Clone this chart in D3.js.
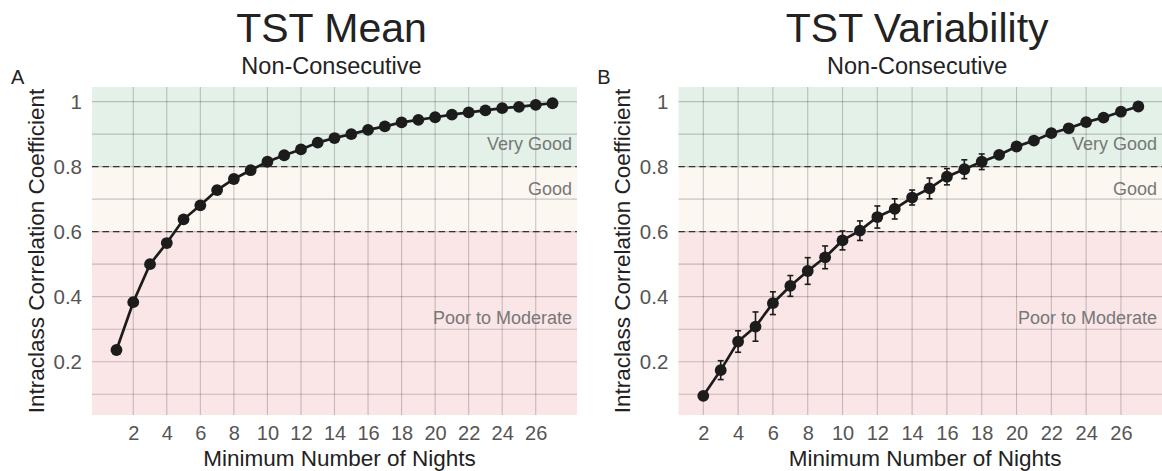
<!DOCTYPE html>
<html><head><meta charset="utf-8">
<script src="https://cdn.jsdelivr.net/npm/d3@7"></script>
<style>
body{margin:0;background:#fff;}
text{font-family:"Liberation Sans",Arial,Helvetica,sans-serif;}
</style></head>
<body><svg id="c" width="1162" height="471"></svg>
<script>
// ---- data ----
const nightsMean = [1,2,3,4,5,6,7,8,9,10,11,12,13,14,15,16,17,18,19,20,21,22,23,24,25,26,27];
const iccMean = [0.236,0.383,0.500,0.565,0.638,0.681,0.728,0.762,0.789,0.815,0.835,0.853,0.874,0.888,0.900,0.913,0.924,0.936,0.944,0.952,0.960,0.967,0.973,0.980,0.984,0.990,0.995];
const errMean = [0.012,0.012,0.008,0.012,0.007,0.006,0.005,0.005,0.004,0.004,0.004,0.003,0.003,0.003,0.003,0.003,0.003,0.002,0.002,0.002,0.002,0.002,0.002,0.002,0.002,0.002,0.002];

const nightsVar = [2,3,4,5,6,7,8,9,10,11,12,13,14,15,16,17,18,19,20,21,22,23,24,25,26,27];
const iccVar = [0.095,0.174,0.262,0.308,0.380,0.433,0.479,0.521,0.573,0.603,0.645,0.670,0.705,0.733,0.769,0.792,0.815,0.836,0.862,0.880,0.903,0.918,0.937,0.951,0.969,0.985];
const errVar = [0.004,0.029,0.033,0.045,0.035,0.032,0.041,0.035,0.029,0.030,0.034,0.031,0.023,0.032,0.025,0.029,0.024,0.010,0.008,0.007,0.006,0.005,0.005,0.004,0.004,0.003];

const xTicks = [2,4,6,8,10,12,14,16,18,20,22,24,26];
const yTicks = [0.2,0.4,0.6,0.8,1.0];
const yGrid = [0.1,0.2,0.3,0.4,0.5,0.6,0.7,0.8,0.9,1.0];
const bands = [
  {name:"Very Good", lo:0.8, hi:1.2, color:"#e3f1e8", labelY:0.851},
  {name:"Good", lo:0.6, hi:0.8, color:"#fdf7f2", labelY:0.713},
  {name:"Poor to Moderate", lo:-1, hi:0.6, color:"#fae6e7", labelY:0.316}
];
const thresholds = [0.6, 0.8];

const panels = [
  {letter:"A", title:"TST Mean", sub:"Non-Consecutive", nights:nightsMean, icc:iccMean, err:errMean,
   xDomain:[-0.46,28.46], left:92, right:577},
  {letter:"B", title:"TST Variability", sub:"Non-Consecutive", nights:nightsVar, icc:iccVar, err:errVar,
   xDomain:[0.563,28.36], left:678.3, right:1162}
];

const svg = d3.select("#c");
const plotTop = 87, plotBottom = 415;

panels.forEach(p => {
  const x = d3.scaleLinear().domain(p.xDomain).range([p.left, p.right]);
  const y = d3.scaleLinear().domain([0.036,1.045]).range([plotBottom, plotTop]);
  const g = svg.append("g");
  const clipId = "clip" + p.letter;
  svg.append("clipPath").attr("id", clipId).append("rect")
    .attr("x", p.left).attr("y", plotTop).attr("width", p.right - p.left).attr("height", plotBottom - plotTop);
  const pg = g.append("g").attr("clip-path", `url(#${clipId})`);

  // bands
  pg.selectAll("rect.band").data(bands).join("rect")
    .attr("x", p.left).attr("width", p.right - p.left)
    .attr("y", d => y(Math.min(d.hi, 1.045)))
    .attr("height", d => y(Math.max(d.lo, 0.036)) - y(Math.min(d.hi, 1.045)))
    .attr("fill", d => d.color);

  // grid
  pg.selectAll("line.hg").data(yGrid).join("line")
    .attr("x1", p.left).attr("x2", p.right)
    .attr("y1", d => y(d)).attr("y2", d => y(d))
    .attr("stroke", "#cbcbcb").attr("stroke-width", 1.1)
    .style("mix-blend-mode", "multiply");
  pg.selectAll("line.vg").data(xTicks).join("line")
    .attr("y1", plotTop).attr("y2", plotBottom)
    .attr("x1", d => x(d)).attr("x2", d => x(d))
    .attr("stroke", "#cbcbcb").attr("stroke-width", 1.1)
    .style("mix-blend-mode", "multiply");

  // thresholds
  pg.selectAll("line.th").data(thresholds).join("line")
    .attr("x1", p.left).attr("x2", p.right)
    .attr("y1", d => y(d)).attr("y2", d => y(d))
    .attr("stroke", "#333").attr("stroke-width", 1.4)
    .attr("stroke-dasharray", "6.5,4");

  // band labels
  g.selectAll("text.bl").data(bands).join("text")
    .attr("x", p.right - 5).attr("y", d => y(d.labelY))
    .attr("text-anchor", "end").attr("font-size", 18).attr("fill", "#777")
    .text(d => d.name);

  // data
  const pts = p.nights.map((n, i) => ({n, v:p.icc[i], e:p.err[i]}));
  g.append("path").datum(pts)
    .attr("fill", "none").attr("stroke", "#1c1c1c").attr("stroke-width", 2.7)
    .attr("d", d3.line().x(d => x(d.n)).y(d => y(d.v)));
  const eb = g.selectAll("g.eb").data(pts).join("g");
  eb.append("line")
    .attr("x1", d => x(d.n)).attr("x2", d => x(d.n))
    .attr("y1", d => y(d.v - d.e)).attr("y2", d => y(d.v + d.e))
    .attr("stroke", "#1c1c1c").attr("stroke-width", 1.6);
  [1, -1].forEach(s => {
    eb.append("line")
      .attr("x1", d => x(d.n) - 3).attr("x2", d => x(d.n) + 3)
      .attr("y1", d => y(d.v + s * d.e)).attr("y2", d => y(d.v + s * d.e))
      .attr("stroke", "#1c1c1c").attr("stroke-width", 1.6);
  });
  g.selectAll("circle.pt").data(pts).join("circle")
    .attr("cx", d => x(d.n)).attr("cy", d => y(d.v)).attr("r", 5.9)
    .attr("fill", "#1c1c1c");

  // axes
  const xa = g.append("g").attr("transform", `translate(0,${plotBottom})`)
    .call(d3.axisBottom(x).tickValues(xTicks).tickSize(0).tickPadding(11).tickFormat(d3.format("d")));
  xa.select(".domain").remove();
  xa.selectAll("text").attr("font-size", 20).attr("fill", "#555")
    .attr("font-family", "Liberation Sans, Arial, sans-serif");
  const ya = g.append("g").attr("transform", `translate(${p.left},0)`)
    .call(d3.axisLeft(y).tickValues(yTicks).tickSize(0).tickPadding(10).tickFormat(d => d === 1 ? "1" : d3.format(".1f")(d)));
  ya.select(".domain").remove();
  ya.selectAll("text").attr("font-size", 20.5).attr("fill", "#555")
    .attr("font-family", "Liberation Sans, Arial, sans-serif");

  const cx = (p.left + p.right) / 2;
  g.append("text").attr("x", cx + 5).attr("y", 466)
    .attr("text-anchor", "middle").attr("font-size", 22.5).attr("fill", "#222")
    .text("Minimum Number of Nights");
  g.append("text")
    .attr("transform", `translate(${p.left - 48},${(plotTop + plotBottom) / 2}) rotate(-90)`)
    .attr("text-anchor", "middle").attr("font-size", 22.5).attr("fill", "#222")
    .text("Intraclass Correlation Coefficient");
  g.append("text").attr("x", cx - 3).attr("y", 42)
    .attr("text-anchor", "middle").attr("font-size", 41).attr("fill", "#222")
    .text(p.title);
  g.append("text").attr("x", cx - 3).attr("y", 73.5)
    .attr("text-anchor", "middle").attr("font-size", 23.5).attr("fill", "#222")
    .text(p.sub);
  g.append("text").attr("x", p.left - 81).attr("y", 84)
    .attr("font-size", 20).attr("fill", "#222")
    .text(p.letter);
});
</script></body></html>
